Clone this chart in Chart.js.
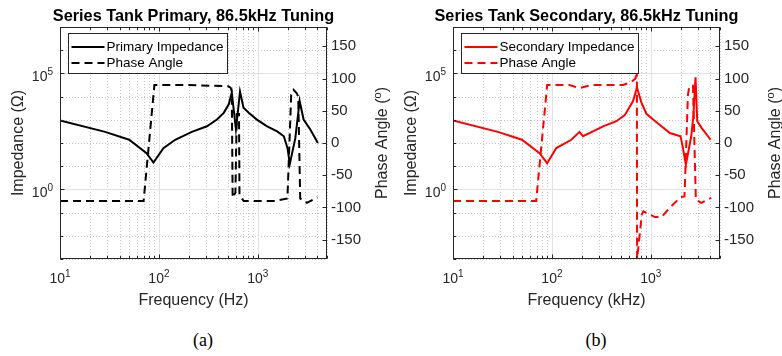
<!DOCTYPE html>
<html>
<head>
<meta charset="utf-8">
<script src="https://cdn.jsdelivr.net/npm/chart.js@4.4.1/dist/chart.umd.min.js"></script>
<style>
  body { margin: 0; background: #fff; width: 782px; height: 356px; overflow: hidden; position: relative; }
  .panel { position: absolute; top: 0; }
  .cap { position: absolute; top: 329px; width: 60px; text-align: center; line-height: 22px;
         font-family: "Liberation Serif", "Times New Roman", serif; font-size: 18px; color: #000; }
</style>
</head>
<body>
<div class="panel" style="left:0"><canvas id="primary" width="391" height="320"></canvas></div>
<div class="panel" style="left:393px"><canvas id="secondary" width="389" height="320"></canvas></div>
<div class="cap" style="left:173px">(a)</div>
<div class="cap" style="left:566px">(b)</div>

<script>
// primary tank: impedance magnitude (ohm) and phase (deg) vs frequency
const primImpFreq = [10, 28.6, 50, 75, 88, 111, 146, 215, 306, 386, 452, 508, 545, 575, 600, 630, 660, 716, 809, 977, 1242, 1567, 1830, 1995, 2104, 2390, 2645, 2900, 3390, 4045];
const primImp     = [933, 302, 138, 36.7, 14.4, 60.3, 138, 302, 525, 1023, 1995, 4677, 14791, 1995, 398, 2512, 16596, 3311, 1995, 1023, 525, 316, 195, 60, 12.6, 158, 6457, 1023, 380, 100];
const primPhaseFreq = [10, 70, 90, 200, 500, 530, 545, 556, 593, 612, 645, 652, 680, 720, 1500, 1990, 2173, 2292, 2476, 2560, 2680, 2786, 3133, 3990];
const primPhase     = [-90, -90, 90, 90, 88, 86, 80, -85, -77, 45, 45, -80, -85, -90, -90, -86, 75, 82.5, 77, 72, -86, -88, -93, -84];

// secondary tank
const secImpFreq = [10, 28.4, 49.7, 75, 89.5, 110.7, 157, 190, 206, 260, 329, 448, 545, 661, 724, 803, 902, 1054, 1280, 1556, 1995, 2080, 2260, 2560, 2690, 2830, 2944, 3258, 4018];
const secImp     = [933, 302, 138, 36.7, 13.5, 60.3, 138, 302, 195, 316, 525, 871, 1585, 6457, 24547, 5495, 1820, 1023, 525, 269, 195, 85, 11.5, 195, 1445, 67608, 871, 447, 138];
const secPhaseFreq = [10, 69.3, 89.5, 150, 190, 250, 525, 640, 700, 722, 726, 810, 840, 1000, 1100, 1280, 1560, 2000, 2188, 2371, 2460, 2665, 2850, 3236, 4083];
const secPhase     = [-90, -90, 90, 90, 85, 90, 90, 95, 100, 124, -180, -111, -106, -112, -115, -115, -100, -84, -83, 75, 88.7, 88.7, -88, -93, -85];

// axis ticks
const freqMajor = [10, 100, 1000];
const freqMinor = [20, 30, 40, 50, 60, 70, 80, 90, 200, 300, 400, 500, 600, 700, 800, 900, 2000, 3000, 4000, 5000];
const impMajor = [1, 1e5];
const impMinor = [1e-3, 1e-2, 1e-1, 10, 100, 1e3, 1e4, 1e6, 1e7];
const phaseTicks = [-150, -100, -50, 0, 50, 100, 150];

const FONT = '"Liberation Sans", Arial, Helvetica, sans-serif';
const AXIS = '#262626';

const pts = (xs, ys) => xs.map((x, i) => ({x: x, y: ys[i]}));

// "10" with a raised exponent
function powLabel(ctx, exp, x, y, align) {
  ctx.font = '14px ' + FONT;
  const wb = ctx.measureText('10').width;
  ctx.font = '10px ' + FONT;
  const we = ctx.measureText(exp).width;
  const x0 = align === 'right' ? x - wb - we : x - (wb + we) / 2;
  ctx.textAlign = 'left';
  ctx.textBaseline = 'alphabetic';
  ctx.font = '14px ' + FONT;
  ctx.fillText('10', x0, y);
  ctx.font = '10px ' + FONT;
  ctx.fillText(exp, x0 + wb, y - 6.5);
}

const framePlugin = {
  id: 'frame',
  beforeDatasetsDraw(chart) {
    const {ctx, chartArea: a, scales: {x, y}} = chart;
    ctx.save();
    ctx.lineWidth = 1;
    const vl = (v) => { const p = Math.round(x.getPixelForValue(v)) + 0.5; ctx.beginPath(); ctx.moveTo(p, a.top); ctx.lineTo(p, a.bottom); ctx.stroke(); };
    const hl = (v) => { const p = Math.round(y.getPixelForValue(v)) + 0.5; ctx.beginPath(); ctx.moveTo(a.left, p); ctx.lineTo(a.right, p); ctx.stroke(); };
    // minor grid, dotted
    ctx.strokeStyle = '#c4c4c4';
    ctx.setLineDash([1, 2]);
    freqMinor.forEach(vl);
    impMinor.forEach(hl);
    // major grid
    ctx.strokeStyle = '#e2e2e2';
    ctx.setLineDash([]);
    freqMajor.forEach(vl);
    impMajor.forEach(hl);
    ctx.restore();
  },
  afterDatasetsDraw(chart, args, opts) {
    const {ctx, chartArea: a, scales: {x, y, y1}} = chart;
    const L = Math.round(a.left) + 0.5, R = Math.round(a.right) - 0.5;
    const T = Math.round(a.top) + 0.5, B = Math.round(a.bottom) - 0.5;
    ctx.save();
    ctx.strokeStyle = AXIS;
    ctx.lineWidth = 1;
    ctx.strokeRect(L, T, R - L, B - T);

    // inward tick marks
    ctx.beginPath();
    freqMajor.concat(freqMinor).forEach(v => {
      const p = Math.round(x.getPixelForValue(v)) + 0.5;
      const len = freqMajor.includes(v) ? 4 : 2.5;
      ctx.moveTo(p, B); ctx.lineTo(p, B - len);
      ctx.moveTo(p, T); ctx.lineTo(p, T + len);
    });
    impMajor.concat(impMinor).forEach(v => {
      const p = Math.round(y.getPixelForValue(v)) + 0.5;
      ctx.moveTo(L, p); ctx.lineTo(L + (impMajor.includes(v) ? 4 : 2.5), p);
    });
    phaseTicks.forEach(v => {
      const p = Math.round(y1.getPixelForValue(v)) + 0.5;
      ctx.moveTo(R, p); ctx.lineTo(R - 4, p);
    });
    ctx.stroke();

    // log tick labels
    ctx.fillStyle = AXIS;
    freqMajor.forEach(v => powLabel(ctx, String(Math.round(Math.log10(v))), x.getPixelForValue(v), a.bottom + 24, 'center'));
    impMajor.forEach(v => powLabel(ctx, String(Math.round(Math.log10(v))), a.left - 7, y.getPixelForValue(v) + 8, 'right'));

    // axis titles
    const midY = (a.top + a.bottom) / 2;
    ctx.font = '16px ' + FONT;
    ctx.textAlign = 'center';
    ctx.textBaseline = 'middle';
    ctx.fillText(opts.xTitle, (a.left + a.right) / 2, a.bottom + 42);

    ctx.save();
    ctx.translate(a.left - 41.5, midY);
    ctx.rotate(-Math.PI / 2);
    ctx.fillText('Impedance (\u03A9)', 0, 0);
    ctx.restore();

    // right title with superscript degree "o"
    ctx.save();
    ctx.translate(a.right + 54, midY);
    ctx.rotate(-Math.PI / 2);
    const s1 = 'Phase Angle (', s2 = 'o', s3 = ')';
    ctx.font = '16px ' + FONT;
    const w1 = ctx.measureText(s1).width, w3 = ctx.measureText(s3).width;
    ctx.font = '11px ' + FONT;
    const w2 = ctx.measureText(s2).width;
    let cx = -(w1 + w2 + w3) / 2;
    ctx.textAlign = 'left';
    ctx.textBaseline = 'alphabetic';
    ctx.font = '16px ' + FONT;
    ctx.fillText(s1, cx, 6);
    ctx.font = '11px ' + FONT;
    ctx.fillText(s2, cx + w1, 0);
    ctx.font = '16px ' + FONT;
    ctx.fillText(s3, cx + w1 + w2, 6);
    ctx.restore();

    // title
    ctx.fillStyle = '#000';
    ctx.font = 'bold 16.3px ' + FONT;
    ctx.textAlign = 'center';
    ctx.textBaseline = 'alphabetic';
    ctx.fillText(opts.title, (a.left + a.right) / 2, 20.5);

    // legend box inside the plot
    const ds = chart.data.datasets;
    ctx.font = '13.5px ' + FONT;
    const tw = Math.max(...ds.map(d => ctx.measureText(d.label).width));
    const bx = Math.round(a.left + 8) + 0.5, by = Math.round(a.top + 6) + 0.5;
    const bw = Math.round(tw + 42), bh = 40;
    ctx.fillStyle = '#fff';
    ctx.fillRect(bx, by, bw, bh);
    ctx.strokeStyle = AXIS;
    ctx.lineWidth = 1;
    ctx.strokeRect(bx, by, bw, bh);
    ds.forEach((d, i) => {
      const ly = by + 13.5 + i * 16;
      ctx.strokeStyle = d.borderColor;
      ctx.lineWidth = d.borderWidth;
      ctx.setLineDash(d.borderDash || []);
      ctx.beginPath();
      ctx.moveTo(bx + 3, ly); ctx.lineTo(bx + 36, ly);
      ctx.stroke();
      ctx.setLineDash([]);
      ctx.fillStyle = '#000';
      ctx.textAlign = 'left';
      ctx.textBaseline = 'middle';
      ctx.fillText(d.label, bx + 38, ly);
    });
    ctx.restore();
  }
};

function tankChart(id, color, impLabel, imp, phase, title, xTitle) {
  return new Chart(document.getElementById(id), {
    type: 'line',
    data: {
      datasets: [
        {
          label: impLabel,
          data: imp,
          yAxisID: 'y',
          borderColor: color,
          borderWidth: 2,
          pointRadius: 0,
          tension: 0
        },
        {
          label: 'Phase Angle',
          data: phase,
          yAxisID: 'y1',
          borderColor: color,
          borderWidth: 2,
          borderDash: [8, 5],
          pointRadius: 0,
          tension: 0
        }
      ]
    },
    options: {
      animation: false,
      responsive: false,
      events: [],
      layout: { padding: { top: 27, left: 0, right: 0, bottom: 0 } },
      plugins: {
        legend: { display: false },
        tooltip: { enabled: false },
        frame: { title: title, xTitle: xTitle }
      },
      scales: {
        x: {
          type: 'logarithmic', min: 10, max: 5000,
          ticks: { display: false },
          grid: { display: false, drawTicks: false },
          border: { display: false },
          afterFit: s => { s.height = 61; }
        },
        y: {
          type: 'logarithmic', position: 'left', min: 1e-3, max: 1e7,
          ticks: { display: false },
          grid: { display: false, drawTicks: false },
          border: { display: false },
          afterFit: s => { s.width = 60; }
        },
        y1: {
          type: 'linear', position: 'right', min: -180, max: 180,
          afterBuildTicks: s => { s.ticks = phaseTicks.map(v => ({ value: v })); },
          ticks: { color: AXIS, padding: 4, font: { family: FONT, size: 15 } },
          grid: { display: false, drawTicks: false },
          border: { display: false },
          afterFit: s => { s.width = s.chart.width - 327; }
        }
      }
    },
    plugins: [framePlugin]
  });
}

tankChart('primary', '#000000', 'Primary Impedance',
  pts(primImpFreq, primImp), pts(primPhaseFreq, primPhase),
  'Series Tank Primary, 86.5kHz Tuning', 'Frequency (Hz)');

tankChart('secondary', '#ff0000', 'Secondary Impedance',
  pts(secImpFreq, secImp), pts(secPhaseFreq, secPhase),
  'Series Tank Secondary, 86.5kHz Tuning', 'Frequency (kHz)');
</script>
</body>
</html>
